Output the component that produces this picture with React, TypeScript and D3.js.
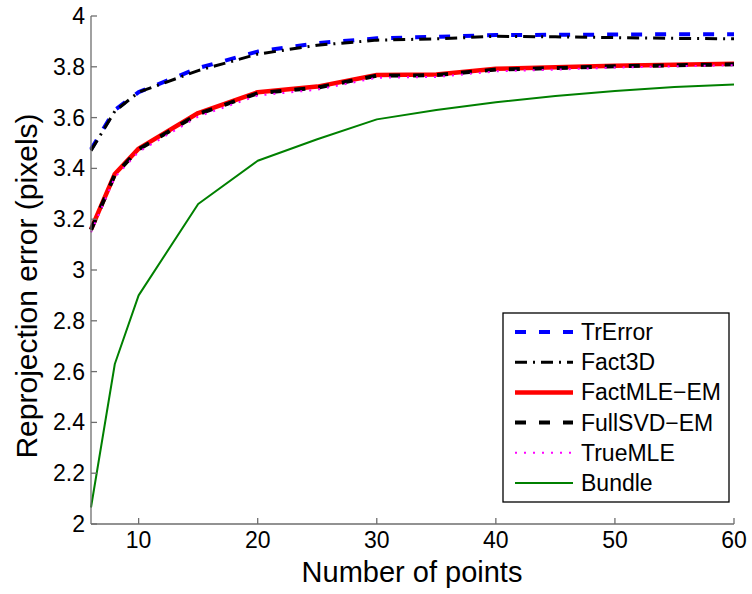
import React from "react";
import * as d3 from "d3";

// Number of points used in each experiment
const numPoints = [6, 8, 10, 15, 20, 25, 30, 35, 40, 45, 50, 55, 60];

// Mean reprojection error (pixels) per method
const trError = [3.475, 3.63, 3.7, 3.795, 3.86, 3.893, 3.912, 3.918, 3.925, 3.926, 3.927, 3.928, 3.928];
const fact3D = [3.47, 3.625, 3.7, 3.785, 3.85, 3.885, 3.905, 3.91, 3.92, 3.918, 3.915, 3.912, 3.91];
const factMLEEM = [3.16, 3.378, 3.478, 3.618, 3.7, 3.722, 3.768, 3.77, 3.792, 3.798, 3.804, 3.808, 3.812];
const fullSVDEM = [3.158, 3.375, 3.475, 3.614, 3.696, 3.718, 3.765, 3.767, 3.789, 3.795, 3.802, 3.806, 3.81];
const trueMLE = [3.148, 3.365, 3.465, 3.604, 3.687, 3.71, 3.757, 3.76, 3.782, 3.789, 3.797, 3.802, 3.806];
const bundle = [2.065, 2.63, 2.9, 3.26, 3.43, 3.515, 3.593, 3.63, 3.66, 3.685, 3.705, 3.72, 3.73];

const xTicks = [10, 20, 30, 40, 50, 60];
const yTicks = [2, 2.2, 2.4, 2.6, 2.8, 3, 3.2, 3.4, 3.6, 3.8, 4];

const seriesNames = ["TrError", "Fact3D", "FactMLE\u2212EM", "FullSVD\u2212EM", "TrueMLE", "Bundle"];
const seriesValues = [trError, fact3D, factMLEEM, fullSVDEM, trueMLE, bundle];

const styles = [
  { color: "#0000ff", width: 4, dash: "11,13" },
  { color: "#000000", width: 3, dash: "12,6,2,6" },
  { color: "#ff0000", width: 4.5, dash: "" },
  { color: "#000000", width: 4, dash: "11,13" },
  { color: "#ff00ff", width: 2, dash: "2,7" },
  { color: "#008000", width: 2, dash: "" },
];

const W = 752;
const H = 594;
const left = 91;
const right = 734;
const top = 16;
const bottom = 524;
const font = "'Liberation Sans', Arial, Helvetica, sans-serif";

export default function App() {
  const x = d3.scaleLinear().domain([6, 60]).range([left, right]);
  const y = d3.scaleLinear().domain([2, 4]).range([bottom, top]);
  const line = d3
    .line<number>()
    .x((_, i) => x(numPoints[i]))
    .y((d) => y(d));

  const legX = 503;
  const legY = 313;
  const legW = 226;
  const legH = 189;
  const rowY0 = 332;
  const rowStep = 30.2;

  return (
    <svg
      width={W}
      height={H}
      style={{ position: "absolute", left: 0, top: 0, background: "#fff" }}
      fontFamily={font}
    >
      <rect width={W} height={H} fill="#fff" />
      <g>
        {seriesValues.map((vals, i) => (
          <path
            key={seriesNames[i]}
            d={line(vals) || ""}
            fill="none"
            stroke={styles[i].color}
            strokeWidth={styles[i].width}
            strokeDasharray={styles[i].dash || undefined}
            strokeLinejoin="round"
          />
        ))}
      </g>
      {/* axes */}
      <g stroke="#6e6e6e" strokeWidth={1.3} fill="none">
        <line x1={left} x2={left} y1={top} y2={bottom} />
        <line x1={left} x2={right} y1={bottom} y2={bottom} />
        {yTicks.map((t) => (
          <line key={"yt" + t} x1={left} x2={left + 6} y1={y(t)} y2={y(t)} />
        ))}
        {xTicks.map((t) => (
          <line key={"xt" + t} x1={x(t)} x2={x(t)} y1={bottom} y2={bottom - 6} />
        ))}
      </g>
      <g fontSize={23} fill="#000">
        {yTicks.map((t) => (
          <text key={"yl" + t} x={85} y={y(t)} textAnchor="end" dominantBaseline="central">
            {d3.format("~g")(t)}
          </text>
        ))}
        {xTicks.map((t) => (
          <text key={"xl" + t} x={x(t)} y={548} textAnchor="middle">
            {t}
          </text>
        ))}
      </g>
      <text x={412} y={582} fontSize={29} textAnchor="middle" fill="#000">
        Number of points
      </text>
      <text
        transform={`translate(37,${(top + bottom) / 2 + 16}) rotate(-90)`}
        fontSize={30}
        textAnchor="middle"
        fill="#000"
      >
        Reprojection error (pixels)
      </text>
      {/* legend */}
      <rect x={legX} y={legY} width={legW} height={legH} fill="#fff" stroke="#000" strokeWidth={1.3} />
      {seriesNames.map((name, i) => {
        const ry = rowY0 + i * rowStep;
        return (
          <g key={"leg" + name}>
            <line
              x1={515}
              x2={573}
              y1={ry}
              y2={ry}
              stroke={styles[i].color}
              strokeWidth={styles[i].width}
              strokeDasharray={styles[i].dash || undefined}
            />
            <text x={581} y={ry} fontSize={23} dominantBaseline="central" fill="#000">
              {name}
            </text>
          </g>
        );
      })}
    </svg>
  );
}
